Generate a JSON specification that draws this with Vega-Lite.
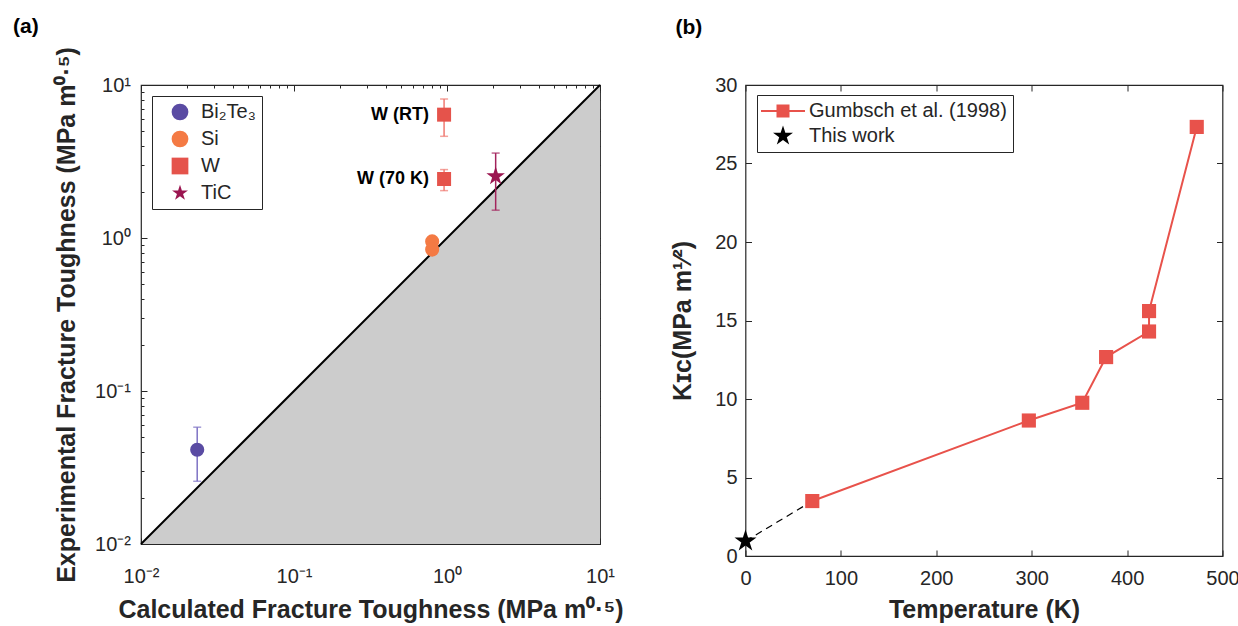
{
  "$schema": "https://vega.github.io/schema/vega-lite/v6.json",
  "background": "white",
  "padding": {"left": 12, "top": 15, "right": 5, "bottom": 0},
  "config": {
    "font": "Liberation Sans",
    "view": {"stroke": "#262626", "strokeWidth": 1.2},
    "axis": {"domain": false, "grid": false, "labelFont": "Liberation Sans", "labelFontSize": 20, "labelColor": "#262626", "tickColor": "#262626", "tickWidth": 1, "titleFont": "Liberation Sans", "titleFontSize": 25, "titleFontWeight": "bold", "titleColor": "#262626"},
    "legend": {"labelFont": "Liberation Sans", "labelFontSize": 20, "labelColor": "#262626", "labelLimit": 400},
    "title": {"font": "Liberation Sans", "fontSize": 21, "fontWeight": "bold", "color": "#000000", "anchor": "start"}
  },
  "datasets": {
    "diag": [{"x": 0.01, "y": 0.01}, {"x": 10, "y": 10}],
    "tough": [
      {"material": "Bi₂Te₃", "calc": 0.0233, "exp": 0.0413, "lo": 0.0257, "hi": 0.058},
      {"material": "Si", "calc": 0.80, "exp": 0.95},
      {"material": "Si", "calc": 0.80, "exp": 0.84},
      {"material": "W", "calc": 0.957, "exp": 6.4, "lo": 4.62, "hi": 8.1, "label": "W (RT)"},
      {"material": "W", "calc": 0.957, "exp": 2.43, "lo": 2.04, "hi": 2.8, "label": "W (70 K)"},
      {"material": "TiC", "calc": 2.08, "exp": 2.53, "lo": 1.52, "hi": 3.59}
    ],
    "gumbsch": [
      {"T": 70, "K": 3.5, "order": 1},
      {"T": 297, "K": 8.63, "order": 2},
      {"T": 353, "K": 9.76, "order": 3},
      {"T": 378, "K": 12.67, "order": 4},
      {"T": 423, "K": 14.3, "order": 5},
      {"T": 423, "K": 15.6, "order": 6},
      {"T": 473, "K": 27.33, "order": 7}
    ],
    "extrap": [{"T": 0, "K": 0.95}, {"T": 70, "K": 3.5}],
    "thiswork": [{"series": "This work", "T": 0, "K": 0.95}]
  },
  "spacing": 45.5,
  "resolve": {"scale": {"color": "independent", "shape": "independent", "stroke": "independent", "fill": "independent"}, "legend": {"color": "independent", "shape": "independent"}},
  "hconcat": [
    {
      "title": {"text": "(a)", "frame": "group", "dx": -128, "offset": 10},
      "width": 459,
      "height": 459,
      "resolve": {"axis": {"x": "independent", "y": "independent"}},
      "layer": [
        {
          "data": {"name": "diag"},
          "mark": {"type": "area", "color": "#cccccc"},
          "encoding": {
            "x": {"field": "x", "type": "quantitative", "scale": {"type": "log", "domain": [0.01, 10], "nice": false},
              "axis": {"orient": "bottom", "values": [0.01,0.02,0.03,0.04,0.05,0.06,0.07,0.08,0.09,0.1,0.2,0.3,0.4,0.5,0.6,0.7,0.8,0.9,1,2,3,4,5,6,7,8,9,10],
                "labelExpr": "datum.value === 0.01 ? '10⁻²' : datum.value === 0.1 ? '10⁻¹' : datum.value === 1 ? '10⁰' : datum.value === 10 ? '10¹' : ''",
                "tickSize": {"condition": {"test": "indexof([0.01,0.1,1,10], datum.value) < 0", "value": -3}, "value": -6},
                "labelPadding": 28, "labelOverlap": false, "labelFlush": false,
                "title": "Calculated Fracture Toughness (MPa m⁰·⁵)", "titlePadding": 8}},
            "y": {"field": "y", "type": "quantitative", "scale": {"type": "log", "domain": [0.01, 10], "nice": false},
              "axis": {"orient": "left", "values": [0.01,0.02,0.03,0.04,0.05,0.06,0.07,0.08,0.09,0.1,0.2,0.3,0.4,0.5,0.6,0.7,0.8,0.9,1,2,3,4,5,6,7,8,9,10],
                "labelExpr": "datum.value === 0.01 ? '10⁻²' : datum.value === 0.1 ? '10⁻¹' : datum.value === 1 ? '10⁰' : datum.value === 10 ? '10¹' : ''",
                "tickSize": {"condition": {"test": "indexof([0.01,0.1,1,10], datum.value) < 0", "value": -3}, "value": -6},
                "labelPadding": 16.5, "labelOverlap": false, "labelFlush": false,
                "title": "Experimental Fracture Toughness (MPa m⁰·⁵)", "titlePadding": 15.5}},
            "y2": {"datum": 0.01}
          }
        },
        {
          "data": {"name": "diag"},
          "mark": {"type": "line", "color": "#000000", "strokeWidth": 2},
          "encoding": {
            "x": {"field": "x", "type": "quantitative", "scale": {"type": "log", "domain": [0.01, 10], "nice": false},
              "axis": {"orient": "top", "values": [0.01,0.02,0.03,0.04,0.05,0.06,0.07,0.08,0.09,0.1,0.2,0.3,0.4,0.5,0.6,0.7,0.8,0.9,1,2,3,4,5,6,7,8,9,10],
                "labels": false, "title": null,
                "tickSize": {"condition": {"test": "indexof([0.01,0.1,1,10], datum.value) < 0", "value": -3}, "value": -6}}},
            "y": {"field": "y", "type": "quantitative", "scale": {"type": "log", "domain": [0.01, 10], "nice": false},
              "axis": {"orient": "right", "values": [0.01,0.02,0.03,0.04,0.05,0.06,0.07,0.08,0.09,0.1,0.2,0.3,0.4,0.5,0.6,0.7,0.8,0.9,1,2,3,4,5,6,7,8,9,10],
                "labels": false, "title": null,
                "tickSize": {"condition": {"test": "indexof([0.01,0.1,1,10], datum.value) < 0", "value": -3}, "value": -6}}}
          }
        },
        {
          "data": {"name": "tough"},
          "mark": {"type": "rule", "strokeWidth": 1.5},
          "encoding": {
            "x": {"field": "calc", "type": "quantitative", "axis": null},
            "y": {"field": "lo", "type": "quantitative", "axis": null},
            "y2": {"field": "hi"},
            "stroke": {"field": "material", "type": "nominal", "scale": {"domain": ["TiC", "W", "Si", "Bi₂Te₃"], "range": ["#A3245C", "#F07A72", "#F47A44", "#7E72C4"]}, "legend": null}
          }
        },
        {
          "data": {"name": "tough"},
          "mark": {"type": "tick", "orient": "horizontal", "size": 8, "thickness": 1.5},
          "encoding": {
            "x": {"field": "calc", "type": "quantitative", "axis": null},
            "y": {"field": "lo", "type": "quantitative", "axis": null},
            "fill": {"field": "material", "type": "nominal", "scale": {"domain": ["TiC", "W", "Si", "Bi₂Te₃"], "range": ["#A3245C", "#F07A72", "#F47A44", "#7E72C4"]}, "legend": null}
          }
        },
        {
          "data": {"name": "tough"},
          "mark": {"type": "tick", "orient": "horizontal", "size": 8, "thickness": 1.5},
          "encoding": {
            "x": {"field": "calc", "type": "quantitative", "axis": null},
            "y": {"field": "hi", "type": "quantitative", "axis": null},
            "fill": {"field": "material", "type": "nominal", "scale": {"domain": ["TiC", "W", "Si", "Bi₂Te₃"], "range": ["#A3245C", "#F07A72", "#F47A44", "#7E72C4"]}, "legend": null}
          }
        },
        {
          "data": {"name": "tough"},
          "transform": [{"filter": "datum.material === 'Bi₂Te₃' || datum.material === 'Si'"}],
          "mark": {"type": "point", "filled": true, "opacity": 1, "size": 200},
          "encoding": {
            "x": {"field": "calc", "type": "quantitative", "axis": null},
            "y": {"field": "exp", "type": "quantitative", "axis": null},
            "color": {"field": "material", "type": "nominal", "scale": {"domain": ["Bi₂Te₃", "Si", "W", "TiC"], "range": ["#5A4BA3", "#F47A44", "#E5534B", "#9B1550"]},
              "legend": {"orient": "none", "legendX": 11, "legendY": 11, "title": null, "strokeColor": "#262626", "fillColor": "#ffffff", "padding": 6, "symbolSize": 280, "symbolOffset": 12, "labelOffset": 11, "rowPadding": 7, "symbolStrokeWidth": 0}},
            "shape": {"field": "material", "type": "nominal", "scale": {"domain": ["Bi₂Te₃", "Si", "W", "TiC"], "range": ["circle", "circle", "square", "M0,-1L0.2245,-0.309L0.9511,-0.309L0.3633,0.118L0.5878,0.809L0,0.382L-0.5878,0.809L-0.3633,0.118L-0.9511,-0.309L-0.2245,-0.309Z"]},
              "legend": {"orient": "none", "legendX": 11, "legendY": 11, "title": null, "strokeColor": "#262626", "fillColor": "#ffffff", "padding": 6, "symbolSize": 280, "symbolOffset": 12, "labelOffset": 11, "rowPadding": 7, "symbolStrokeWidth": 0}}
          }
        },
        {
          "data": {"name": "tough"},
          "transform": [{"filter": "datum.material === 'W'"}],
          "mark": {"type": "point", "filled": true, "opacity": 1, "size": 196},
          "encoding": {
            "x": {"field": "calc", "type": "quantitative", "axis": null},
            "y": {"field": "exp", "type": "quantitative", "axis": null},
            "color": {"field": "material", "type": "nominal", "scale": {"domain": ["Bi₂Te₃", "Si", "W", "TiC"], "range": ["#5A4BA3", "#F47A44", "#E5534B", "#9B1550"]},
              "legend": {"orient": "none", "legendX": 11, "legendY": 11, "title": null, "strokeColor": "#262626", "fillColor": "#ffffff", "padding": 6, "symbolSize": 280, "symbolOffset": 12, "labelOffset": 11, "rowPadding": 7, "symbolStrokeWidth": 0}},
            "shape": {"field": "material", "type": "nominal", "scale": {"domain": ["Bi₂Te₃", "Si", "W", "TiC"], "range": ["circle", "circle", "square", "M0,-1L0.2245,-0.309L0.9511,-0.309L0.3633,0.118L0.5878,0.809L0,0.382L-0.5878,0.809L-0.3633,0.118L-0.9511,-0.309L-0.2245,-0.309Z"]},
              "legend": {"orient": "none", "legendX": 11, "legendY": 11, "title": null, "strokeColor": "#262626", "fillColor": "#ffffff", "padding": 6, "symbolSize": 280, "symbolOffset": 12, "labelOffset": 11, "rowPadding": 7, "symbolStrokeWidth": 0}}
          }
        },
        {
          "data": {"name": "tough"},
          "transform": [{"filter": "datum.material === 'TiC'"}],
          "mark": {"type": "point", "filled": true, "opacity": 1, "size": 380},
          "encoding": {
            "x": {"field": "calc", "type": "quantitative", "axis": null},
            "y": {"field": "exp", "type": "quantitative", "axis": null},
            "color": {"field": "material", "type": "nominal", "scale": {"domain": ["Bi₂Te₃", "Si", "W", "TiC"], "range": ["#5A4BA3", "#F47A44", "#E5534B", "#9B1550"]},
              "legend": {"orient": "none", "legendX": 11, "legendY": 11, "title": null, "strokeColor": "#262626", "fillColor": "#ffffff", "padding": 6, "symbolSize": 280, "symbolOffset": 12, "labelOffset": 11, "rowPadding": 7, "symbolStrokeWidth": 0}},
            "shape": {"field": "material", "type": "nominal", "scale": {"domain": ["Bi₂Te₃", "Si", "W", "TiC"], "range": ["circle", "circle", "square", "M0,-1L0.2245,-0.309L0.9511,-0.309L0.3633,0.118L0.5878,0.809L0,0.382L-0.5878,0.809L-0.3633,0.118L-0.9511,-0.309L-0.2245,-0.309Z"]},
              "legend": {"orient": "none", "legendX": 11, "legendY": 11, "title": null, "strokeColor": "#262626", "fillColor": "#ffffff", "padding": 6, "symbolSize": 280, "symbolOffset": 12, "labelOffset": 11, "rowPadding": 7, "symbolStrokeWidth": 0}}
          }
        },
        {
          "data": {"name": "tough"},
          "transform": [{"filter": "datum.label != null"}],
          "mark": {"type": "text", "align": "right", "baseline": "middle", "dx": -15, "fontSize": 18, "fontWeight": "bold", "color": "#000000", "font": "Liberation Sans"},
          "encoding": {
            "x": {"field": "calc", "type": "quantitative", "axis": null},
            "y": {"field": "exp", "type": "quantitative", "axis": null},
            "text": {"field": "label"}
          }
        }
      ]
    },
    {
      "title": {"text": "(b)", "frame": "group", "dx": -70, "offset": 37},
      "width": 477,
      "height": 471,
      "resolve": {"axis": {"x": "independent", "y": "independent"}},
      "layer": [
        {
          "data": {"name": "extrap"},
          "mark": {"type": "line", "color": "#000000", "strokeWidth": 1.2, "strokeDash": [7, 5]},
          "encoding": {
            "x": {"field": "T", "type": "quantitative", "scale": {"domain": [0, 500], "nice": false},
              "axis": {"orient": "bottom", "values": [0, 100, 200, 300, 400, 500], "tickSize": -6, "labelPadding": 18, "labelFlush": false, "labelOverlap": false, "title": "Temperature (K)", "titlePadding": 9}},
            "y": {"field": "K", "type": "quantitative", "scale": {"domain": [0, 30], "nice": false},
              "axis": {"orient": "left", "values": [0, 5, 10, 15, 20, 25, 30], "tickSize": -6, "labelPadding": 14.5, "labelFlush": false, "labelOverlap": false, "title": "Kɪᴄ(MPa m¹⁄²)", "titlePadding": 19.5}}
          }
        },
        {
          "data": {"name": "gumbsch"},
          "mark": {"type": "line", "color": "#E8524B", "strokeWidth": 2},
          "encoding": {
            "x": {"field": "T", "type": "quantitative", "scale": {"domain": [0, 500], "nice": false},
              "axis": {"orient": "top", "values": [0, 100, 200, 300, 400, 500], "tickSize": -6, "labels": false, "title": null}},
            "y": {"field": "K", "type": "quantitative", "scale": {"domain": [0, 30], "nice": false},
              "axis": {"orient": "right", "values": [0, 5, 10, 15, 20, 25, 30], "tickSize": -6, "labels": false, "title": null}},
            "order": {"field": "order"}
          }
        },
        {
          "data": {"name": "gumbsch"},
          "mark": {"type": "point", "shape": "square", "filled": true, "opacity": 1, "size": 200, "color": "#E8524B"},
          "encoding": {
            "x": {"field": "T", "type": "quantitative", "axis": null},
            "y": {"field": "K", "type": "quantitative", "axis": null}
          }
        },
        {
          "data": {"name": "thiswork"},
          "mark": {"type": "point", "filled": true, "opacity": 1, "size": 486},
          "encoding": {
            "x": {"field": "T", "type": "quantitative", "axis": null},
            "y": {"field": "K", "type": "quantitative", "axis": null},
            "color": {"field": "series", "type": "nominal", "scale": {"domain": ["Gumbsch et al. (1998)", "This work"], "range": ["#E8524B", "#000000"]},
              "legend": {"orient": "none", "legendX": 11.5, "legendY": 10, "title": null, "strokeColor": "#262626", "fillColor": "#ffffff", "padding": 6, "symbolSize": 400, "symbolOffset": 10, "labelOffset": 16, "rowPadding": 4, "symbolStrokeWidth": 0}},
            "shape": {"field": "series", "type": "nominal", "scale": {"domain": ["Gumbsch et al. (1998)", "This work"], "range": ["M-2.2,-0.1H2.2V0.1H-2.2Z M-0.65,-0.65H0.65V0.65H-0.65Z", "M0,-1.05L0.2357,-0.3245L0.9987,-0.3245L0.3815,0.1239L0.6172,0.8495L0,0.4011L-0.6172,0.8495L-0.3815,0.1239L-0.9987,-0.3245L-0.2357,-0.3245Z"]},
              "legend": {"orient": "none", "legendX": 11.5, "legendY": 10, "title": null, "strokeColor": "#262626", "fillColor": "#ffffff", "padding": 6, "symbolSize": 400, "symbolOffset": 10, "labelOffset": 16, "rowPadding": 4, "symbolStrokeWidth": 0}}
          }
        }
      ]
    }
  ]
}
